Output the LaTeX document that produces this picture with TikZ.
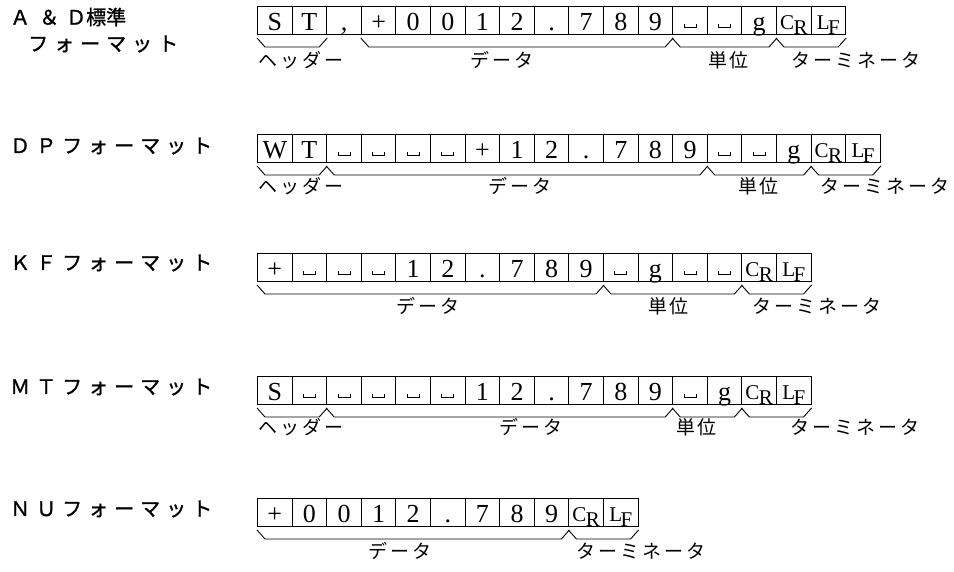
\documentclass[tikz,border=0pt]{standalone}
\usepackage{fontspec}
\setmainfont{Liberation Serif}
\newfontfamily\jp{Noto Sans CJK JP}
\newfontfamily\jpb[FakeBold=1.2]{Noto Sans CJK JP}
\usetikzlibrary{calc}
\makeatletter
\newcommand\lsp[2]{\def\lsp@sep{}\@tfor\lsp@c:=#2\do{\lsp@sep\lsp@c\def\lsp@sep{\kern#1}}}
\makeatother
\newcommand\vsp{\raisebox{2pt}{\rule{0.9pt}{4.5pt}\rule{11pt}{0.9pt}\rule{0.9pt}{4.5pt}}}
\newcommand\CRx{{\fontsize{21}{21}\selectfont\raisebox{1pt}{C}\kern-0.5pt\raisebox{-4pt}{R}}}
\newcommand\LFx{{\fontsize{21}{21}\selectfont\raisebox{1pt}{L}\kern-1.5pt\raisebox{-4pt}{F}}}
\newcommand\ubr[2]{\draw[brc] ($(#1.south west)+(0,3)$) -- ++(8,9) -- ($(#2.south east)+(-8,12)$) -- ($(#2.south east)+(0,3)$);}
\begin{document}
\begin{tikzpicture}[x=1pt,y=-1pt,
  cell/.style={draw, line width=1pt, minimum width=34.6pt, minimum height=28pt,
    inner sep=0pt, anchor=north west, text height=21pt, text depth=2pt,
    font=\fontsize{26}{26}\selectfont},
  brc/.style={line width=0.9pt},
  fmt/.style={anchor=west, inner sep=0pt, font=\jpb\fontsize{20}{20}\selectfont},
  part/.style={inner sep=0pt, font=\jp\fontsize{19}{19}\selectfont}]
\useasboundingbox[fill=white] (0,0) rectangle (954,571);

% ---------- A&D standard ----------
\node[fmt] (fa1) at (10,17) {Ａ\kern9pt＆\kern7pt Ｄ標準};
\node[fmt] (fa2) at (28,44) {\lsp{6pt}{フォーマット}};
\foreach \t [count=\i from 0] in {S,T,{,},+,0,0,1,2,.,7,8,9,\vsp,\vsp,g,\CRx,\LFx}
  \node[cell] (a\i) at ({257+\i*34.6},6) {\t};
\ubr{a0}{a1}\ubr{a3}{a11}\ubr{a12}{a14}\ubr{a15}{a16}
\node[part] (la1) at (301,60) {\lsp{3pt}{ヘッダー}};
\node[part] (la2) at (502,60) {\lsp{3pt}{データ}};
\node[part] (la3) at (728,60) {\lsp{2pt}{単位}};
\node[part] (la4) at (856,60) {\lsp{3pt}{ターミネータ}};

% ---------- DP ----------
\node[fmt] (fb) at (10,146) {\lsp{6pt}{ＤＰフォーマット}};
\foreach \t [count=\i from 0] in {W,T,\vsp,\vsp,\vsp,\vsp,+,1,2,.,7,8,9,\vsp,\vsp,g,\CRx,\LFx}
  \node[cell] (b\i) at ({257+\i*34.6},134) {\t};
\ubr{b0}{b1}\ubr{b2}{b12}\ubr{b13}{b15}\ubr{b16}{b17}
\node[part] (lb1) at (301,186) {\lsp{3pt}{ヘッダー}};
\node[part] (lb2) at (520,186) {\lsp{3pt}{データ}};
\node[part] (lb3) at (758,186) {\lsp{2pt}{単位}};
\node[part] (lb4) at (885,186) {\lsp{3pt}{ターミネータ}};

% ---------- KF ----------
\node[fmt] (fc) at (10,263) {\lsp{6pt}{ＫＦフォーマット}};
\foreach \t [count=\i from 0] in {+,\vsp,\vsp,\vsp,1,2,.,7,8,9,\vsp,g,\vsp,\vsp,\CRx,\LFx}
  \node[cell] (c\i) at ({257+\i*34.6},253) {\t};
\ubr{c0}{c9}\ubr{c10}{c13}\ubr{c14}{c15}
\node[part] (lc2) at (428,306) {\lsp{3pt}{データ}};
\node[part] (lc3) at (668,306) {\lsp{2pt}{単位}};
\node[part] (lc4) at (817,306) {\lsp{3pt}{ターミネータ}};

% ---------- MT ----------
\node[fmt] (fd) at (10,387) {\lsp{6pt}{ＭＴフォーマット}};
\foreach \t [count=\i from 0] in {S,\vsp,\vsp,\vsp,\vsp,\vsp,1,2,.,7,8,9,\vsp,g,\CRx,\LFx}
  \node[cell] (d\i) at ({257+\i*34.6},376) {\t};
\ubr{d0}{d1}\ubr{d2}{d11}\ubr{d12}{d13}\ubr{d14}{d15}
\node[part] (ld1) at (301,427) {\lsp{3pt}{ヘッダー}};
\node[part] (ld2) at (531,427) {\lsp{3pt}{データ}};
\node[part] (ld3) at (696,427) {\lsp{2pt}{単位}};
\node[part] (ld4) at (855,427) {\lsp{3pt}{ターミネータ}};

% ---------- NU ----------
\node[fmt] (fe) at (10,509) {\lsp{6pt}{ＮＵフォーマット}};
\foreach \t [count=\i from 0] in {+,0,0,1,2,.,7,8,9,\CRx,\LFx}
  \node[cell] (e\i) at ({257+\i*34.6},498) {\t};
\ubr{e0}{e8}\ubr{e9}{e10}
\node[part] (le2) at (400,551) {\lsp{3pt}{データ}};
\node[part] (le4) at (641,551) {\lsp{3pt}{ターミネータ}};
\end{tikzpicture}
\end{document}
